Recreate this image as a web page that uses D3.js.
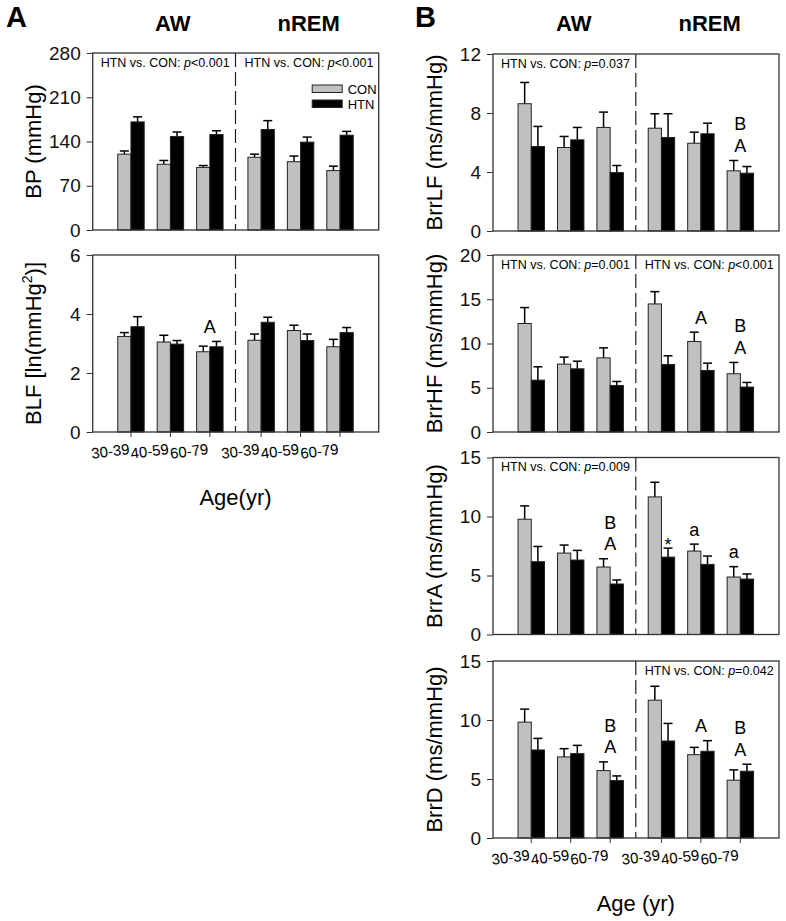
<!DOCTYPE html>
<html>
<head>
<meta charset="utf-8">
<script src="https://cdn.jsdelivr.net/npm/d3@7"></script>
<style>
  body { margin: 0; background: #fff; }
  text { font-family: "Liberation Sans", Arial, sans-serif; }
</style>
</head>
<body>
<svg id="chart" width="786" height="921"></svg>
<script>
// age groups: three AW, then three nREM
var ageGroups = ["30-39", "40-59", "60-79", "30-39", "40-59", "60-79"];
var groupPos = [0, 1, 2, 3.3, 4.3, 5.3];

// means and SEM
var bpCon = [120, 104, 99, 115, 108, 94];
var bpConSem = [5, 6, 3, 5, 9, 7];
var bpHtn = [171, 148, 151, 159, 139, 150];
var bpHtnSem = [8, 7, 6, 14, 8, 6];

var blfCon = [3.24, 3.05, 2.72, 3.11, 3.44, 2.89];
var blfConSem = [0.13, 0.23, 0.19, 0.21, 0.18, 0.25];
var blfHtn = [3.57, 2.98, 2.89, 3.72, 3.10, 3.37];
var blfHtnSem = [0.34, 0.12, 0.18, 0.17, 0.22, 0.17];

var lfCon = [8.63, 5.66, 7.02, 6.97, 5.95, 4.08];
var lfConSem = [1.44, 0.75, 1.04, 0.98, 0.75, 0.70];
var lfHtn = [5.73, 6.18, 3.96, 6.34, 6.59, 3.92];
var lfHtnSem = [1.36, 0.84, 0.48, 1.61, 0.72, 0.45];

var hfCon = [12.26, 7.67, 8.38, 14.47, 10.23, 6.58];
var hfConSem = [1.80, 0.79, 1.13, 1.39, 1.05, 1.28];
var hfHtn = [5.86, 7.14, 5.26, 7.63, 6.95, 5.08];
var hfHtnSem = [1.51, 0.86, 0.45, 0.98, 0.83, 0.52];

var brrACon = [9.77, 6.90, 5.72, 11.66, 7.07, 4.87];
var brrAConSem = [1.13, 0.68, 0.70, 1.24, 0.59, 0.88];
var brrAHtn = [6.17, 6.31, 4.28, 6.56, 5.94, 4.70];
var brrAHtnSem = [1.29, 0.82, 0.34, 0.76, 0.71, 0.43];

var brrDCon = [9.82, 6.87, 5.71, 11.68, 7.06, 4.90];
var brrDConSem = [1.10, 0.70, 0.74, 1.18, 0.62, 0.87];
var brrDHtn = [7.46, 7.15, 4.87, 8.22, 7.35, 5.66];
var brrDHtnSem = [0.98, 0.70, 0.39, 1.49, 0.90, 0.59];

// significance marks: group index, which bar, stacked lines (top first)
var blfMarks = [{g: 2, bar: "both", lines: ["A"]}];
var lfMarks = [{g: 5, bar: "both", lines: ["B", "A"]}];
var hfMarks = [{g: 4, bar: "both", lines: ["A"]}, {g: 5, bar: "both", lines: ["B", "A"]}];
var brrAMarks = [{g: 2, bar: "both", lines: ["B", "A"]}, {g: 3, bar: "htn", lines: ["*"]},
                 {g: 4, bar: "con", lines: ["a"]}, {g: 5, bar: "con", lines: ["a"]}];
var brrDMarks = [{g: 2, bar: "both", lines: ["B", "A"]}, {g: 4, bar: "both", lines: ["A"]},
                 {g: 5, bar: "both", lines: ["B", "A"]}];

var panels = [
  {left: 92.7, top: 53, label: "BP (mmHg)", domain: [0, 280], ticks: [0, 70, 140, 210, 280],
   con: bpCon, conSem: bpConSem, htn: bpHtn, htnSem: bpHtnSem, pL: "<0.001", pR: "<0.001", marks: [], legend: true},
  {left: 92.7, top: 255, label: "BLF", domain: [0, 6], ticks: [0, 2, 4, 6],
   con: blfCon, conSem: blfConSem, htn: blfHtn, htnSem: blfHtnSem, marks: blfMarks, xAxis: "Age(yr)"},
  {left: 493, top: 54, label: "BrrLF (ms/mmHg)", domain: [0, 12], ticks: [0, 4, 8, 12],
   con: lfCon, conSem: lfConSem, htn: lfHtn, htnSem: lfHtnSem, pL: "=0.037", marks: lfMarks},
  {left: 493, top: 255, label: "BrrHF (ms/mmHg)", domain: [0, 20], ticks: [0, 5, 10, 15, 20],
   con: hfCon, conSem: hfConSem, htn: hfHtn, htnSem: hfHtnSem, pL: "=0.001", pR: "<0.001", marks: hfMarks},
  {left: 493, top: 457.5, label: "BrrA (ms/mmHg)", domain: [0, 15], ticks: [0, 5, 10, 15],
   con: brrACon, conSem: brrAConSem, htn: brrAHtn, htnSem: brrAHtnSem, pL: "=0.009", marks: brrAMarks},
  {left: 493, top: 661, label: "BrrD (ms/mmHg)", domain: [0, 15], ticks: [0, 5, 10, 15],
   con: brrDCon, conSem: brrDConSem, htn: brrDHtn, htnSem: brrDHtnSem, pR: "=0.042", marks: brrDMarks, xAxis: "Age (yr)"}
];

var W = 286, H = 177;
var svg = d3.select("#chart");

// panel letters and state headers
[["A", 6, 0], ["B", 415, 401]].forEach(function (t) {
  svg.append("text").attr("x", t[1]).attr("y", 27).attr("font-size", 29).attr("font-weight", "bold").text(t[0]);
  svg.append("text").attr("x", 92.7 + t[2] + 80).attr("y", 31).attr("text-anchor", "middle")
    .attr("font-size", 22).attr("font-weight", "bold").text("AW");
  svg.append("text").attr("x", 92.7 + t[2] + 216).attr("y", 31).attr("text-anchor", "middle")
    .attr("font-size", 22).attr("font-weight", "bold").text("nREM");
});

panels.forEach(drawPanel);

function pText(g, x, y, rel) {
  var t = g.append("text").attr("x", x).attr("y", y).attr("font-size", 12.5);
  t.append("tspan").text("HTN vs. CON: ");
  t.append("tspan").attr("font-style", "italic").text("p");
  t.append("tspan").text(rel);
}

function drawPanel(p) {
  var g = svg.append("g").attr("transform", "translate(" + p.left + "," + p.top + ")");
  var x = d3.scaleLinear().domain([-0.97, 6.28]).range([0, W]);
  var y = d3.scaleLinear().domain(p.domain).range([H, 0]);
  var bw = x(0.335) - x(0);

  var rows = ageGroups.map(function (a, i) {
    return {pos: groupPos[i], con: p.con[i], conSem: p.conSem[i], htn: p.htn[i], htnSem: p.htnSem[i]};
  });

  // error bars (upper only), drawn under the bars
  var series = [["con", -1, "#c0c0c0"], ["htn", 0, "#000"]];
  series.forEach(function (s) {
    var key = s[0];
    var eb = g.selectAll(".eb-" + key).data(rows).enter().append("g");
    eb.append("line")
      .attr("x1", function (d) { return x(d.pos) + bw * (s[1] + 0.5); })
      .attr("x2", function (d) { return x(d.pos) + bw * (s[1] + 0.5); })
      .attr("y1", function (d) { return y(d[key]); })
      .attr("y2", function (d) { return y(d[key] + d[key + "Sem"]); })
      .attr("stroke", "#000").attr("stroke-width", 1.5);
    eb.append("line")
      .attr("x1", function (d) { return x(d.pos) + bw * (s[1] + 0.5) - 4.5; })
      .attr("x2", function (d) { return x(d.pos) + bw * (s[1] + 0.5) + 4.5; })
      .attr("y1", function (d) { return y(d[key] + d[key + "Sem"]); })
      .attr("y2", function (d) { return y(d[key] + d[key + "Sem"]); })
      .attr("stroke", "#000").attr("stroke-width", 1.5);
  });
  series.forEach(function (s) {
    var key = s[0];
    g.selectAll(".bar-" + key).data(rows).enter().append("rect")
      .attr("x", function (d) { return x(d.pos) + bw * s[1]; })
      .attr("y", function (d) { return y(d[key]); })
      .attr("width", bw)
      .attr("height", function (d) { return H - y(d[key]); })
      .attr("fill", s[2]).attr("stroke", "#222").attr("stroke-width", 1);
  });

  // frame and AW / nREM divider
  g.append("rect").attr("width", W).attr("height", H)
    .attr("fill", "none").attr("stroke", "#333").attr("stroke-width", 1.3);
  g.append("line").attr("x1", x(2.65)).attr("x2", x(2.65)).attr("y1", 0).attr("y2", H)
    .attr("stroke", "#222").attr("stroke-width", 1.2).attr("stroke-dasharray", "14,5");

  // y axis
  var ya = g.append("g").call(d3.axisLeft(y).tickValues(p.ticks).tickFormat(d3.format("d")).tickSize(6).tickPadding(6));
  ya.select(".domain").remove();
  ya.selectAll("line").attr("stroke", "#333");
  ya.selectAll("text").attr("font-size", 19).attr("font-family", "Liberation Sans, Arial, sans-serif").attr("fill", "#111");

  // y label
  var yl = g.append("text")
    .attr("transform", "translate(-59," + (H / 2) + ") rotate(-90)")
    .attr("text-anchor", "middle").attr("dy", "0.35em").attr("font-size", 22);
  if (p.label === "BLF") {
    yl.append("tspan").text("BLF [ln(mmHg");
    yl.append("tspan").attr("font-size", 14).attr("dy", -9).text("2");
    yl.append("tspan").attr("dy", 9).text(")]");
  } else {
    yl.text(p.label);
  }

  // p-value notes
  if (p.pL) pText(g, 8, 13.5, p.pL);
  if (p.pR) pText(g, x(2.65) + 9, 13.5, p.pR);

  // legend
  if (p.legend) {
    [["CON", "#c0c0c0", 32], ["HTN", "#000", 47]].forEach(function (l) {
      g.append("rect").attr("x", 219.5).attr("y", l[2]).attr("width", 30).attr("height", 7.5)
        .attr("fill", l[1]).attr("stroke", "#222").attr("stroke-width", 1);
      g.append("text").attr("x", 255).attr("y", l[2] + 8.5).attr("font-size", 13).text(l[0]);
    });
  }

  // significance letters
  p.marks.forEach(function (m) {
    var r = rows[m.g];
    var top = Math.min(y(r.con + r.conSem), y(r.htn + r.htnSem));
    var cx = x(r.pos);
    if (m.bar === "con") { cx = x(r.pos) - bw / 2; top = y(r.con + r.conSem); }
    if (m.bar === "htn") { cx = x(r.pos) + bw / 2; top = y(r.htn + r.htnSem); }
    var n = m.lines.length;
    m.lines.forEach(function (txt, k) {
      var base = txt === "*" ? top + 3 : top - 8.5;
      g.append("text").attr("x", cx).attr("y", base - (n - 1 - k) * 21.5)
        .attr("text-anchor", "middle").attr("font-size", 18).text(txt);
    });
  });

  // x axis with age groups on bottom panels
  if (p.xAxis) {
    g.selectAll(".xt").data(rows).enter().append("line")
      .attr("x1", function (d) { return x(d.pos); }).attr("x2", function (d) { return x(d.pos); })
      .attr("y1", H).attr("y2", H + 5).attr("stroke", "#333");
    g.selectAll(".xl").data(rows).enter().append("text")
      .attr("text-anchor", "end").attr("font-size", 15)
      .attr("transform", function (d) { return "translate(" + (x(d.pos) - 1) + "," + (H + 22) + ") rotate(-7)"; })
      .text(function (d, i) { return ageGroups[i]; });
    g.append("text").attr("x", x(2.65)).attr("y", H + 73).attr("text-anchor", "middle")
      .attr("font-size", 22).text(p.xAxis);
  }
}
</script>
</body>
</html>
